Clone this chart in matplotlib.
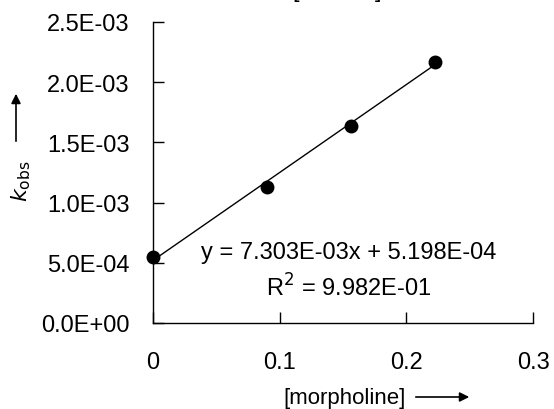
import numpy as np
import matplotlib.pyplot as plt

plt.rcParams['font.family'] = ['Liberation Sans', 'DejaVu Sans']

# measured points
conc = [0.0, 0.0898, 0.1567, 0.2228]
k_obs = [5.45e-4, 1.13e-3, 1.64e-3, 2.17e-3]

# trendline from the label
slope = 7.303e-3
intercept = 5.198e-4
r2 = 9.982e-01

x_ticks = [0, 0.1, 0.2, 0.3]
x_labels = ['0', '0.1', '0.2', '0.3']
y_ticks = [0, 5e-4, 1e-3, 1.5e-3, 2e-3, 2.5e-3]
y_labels = ['0.0E+00', '5.0E-04', '1.0E-03', '1.5E-03', '2.0E-03', '2.5E-03']

fig = plt.figure(figsize=(5.54, 4.10), dpi=100)
ax = fig.add_axes([153/554, 1 - 324/410, 380/554, 301/410])

x_fit = np.array([min(conc), max(conc)])
ax.plot(x_fit, slope*x_fit + intercept, '-', color='black', linewidth=1)
ax.plot(conc, k_obs, 'o', color='black', markersize=9, clip_on=False)

ax.set_xlim(0, 0.3)
ax.set_ylim(0, 2.5e-3)
ax.set_xticks(x_ticks)
ax.set_xticklabels(x_labels)
ax.set_yticks(y_ticks)
ax.set_yticklabels(y_labels)
ax.tick_params(direction='in', length=8, width=1, labelsize=17, colors='black')
ax.tick_params(axis='x', pad=20)
ax.tick_params(axis='y', pad=17)
for s in ['top', 'right']:
    ax.spines[s].set_visible(False)
for s in ['left', 'bottom']:
    ax.spines[s].set_linewidth(1)

ax.text(0.1547, 5.92e-4, 'y = 7.303E-03x + 5.198E-04', fontsize=17, ha='center', va='center')
ax.text(0.1547, 3.0e-4, r'R$^2$ = 9.982E-01', fontsize=17, ha='center', va='center')

# axis labels with arrows
fig.text(345/554, 1 - 399/410, '[morpholine]', fontsize=16, ha='center', va='center')
ax.annotate('', xy=(472/554, 1 - 398/410), xytext=(413/554, 1 - 398/410),
            xycoords='figure fraction', textcoords='figure fraction',
            arrowprops=dict(arrowstyle='-|>', color='black', lw=1.2, mutation_scale=14))
fig.text(21/554, 1 - 181/410, r'$k_{\mathrm{obs}}$', fontsize=16, rotation=90, ha='center', va='center')
ax.annotate('', xy=(16/554, 1 - 92/410), xytext=(16/554, 1 - 145/410),
            xycoords='figure fraction', textcoords='figure fraction',
            arrowprops=dict(arrowstyle='-|>', color='black', lw=1.2, mutation_scale=14))

# title cut off at the top edge
fig.text(296/554, 1.007, '[', fontsize=17, ha='center', va='baseline')
fig.text(378/554, 1.007, ']', fontsize=17, ha='center', va='baseline')

fig.savefig('out.png', dpi=100)
